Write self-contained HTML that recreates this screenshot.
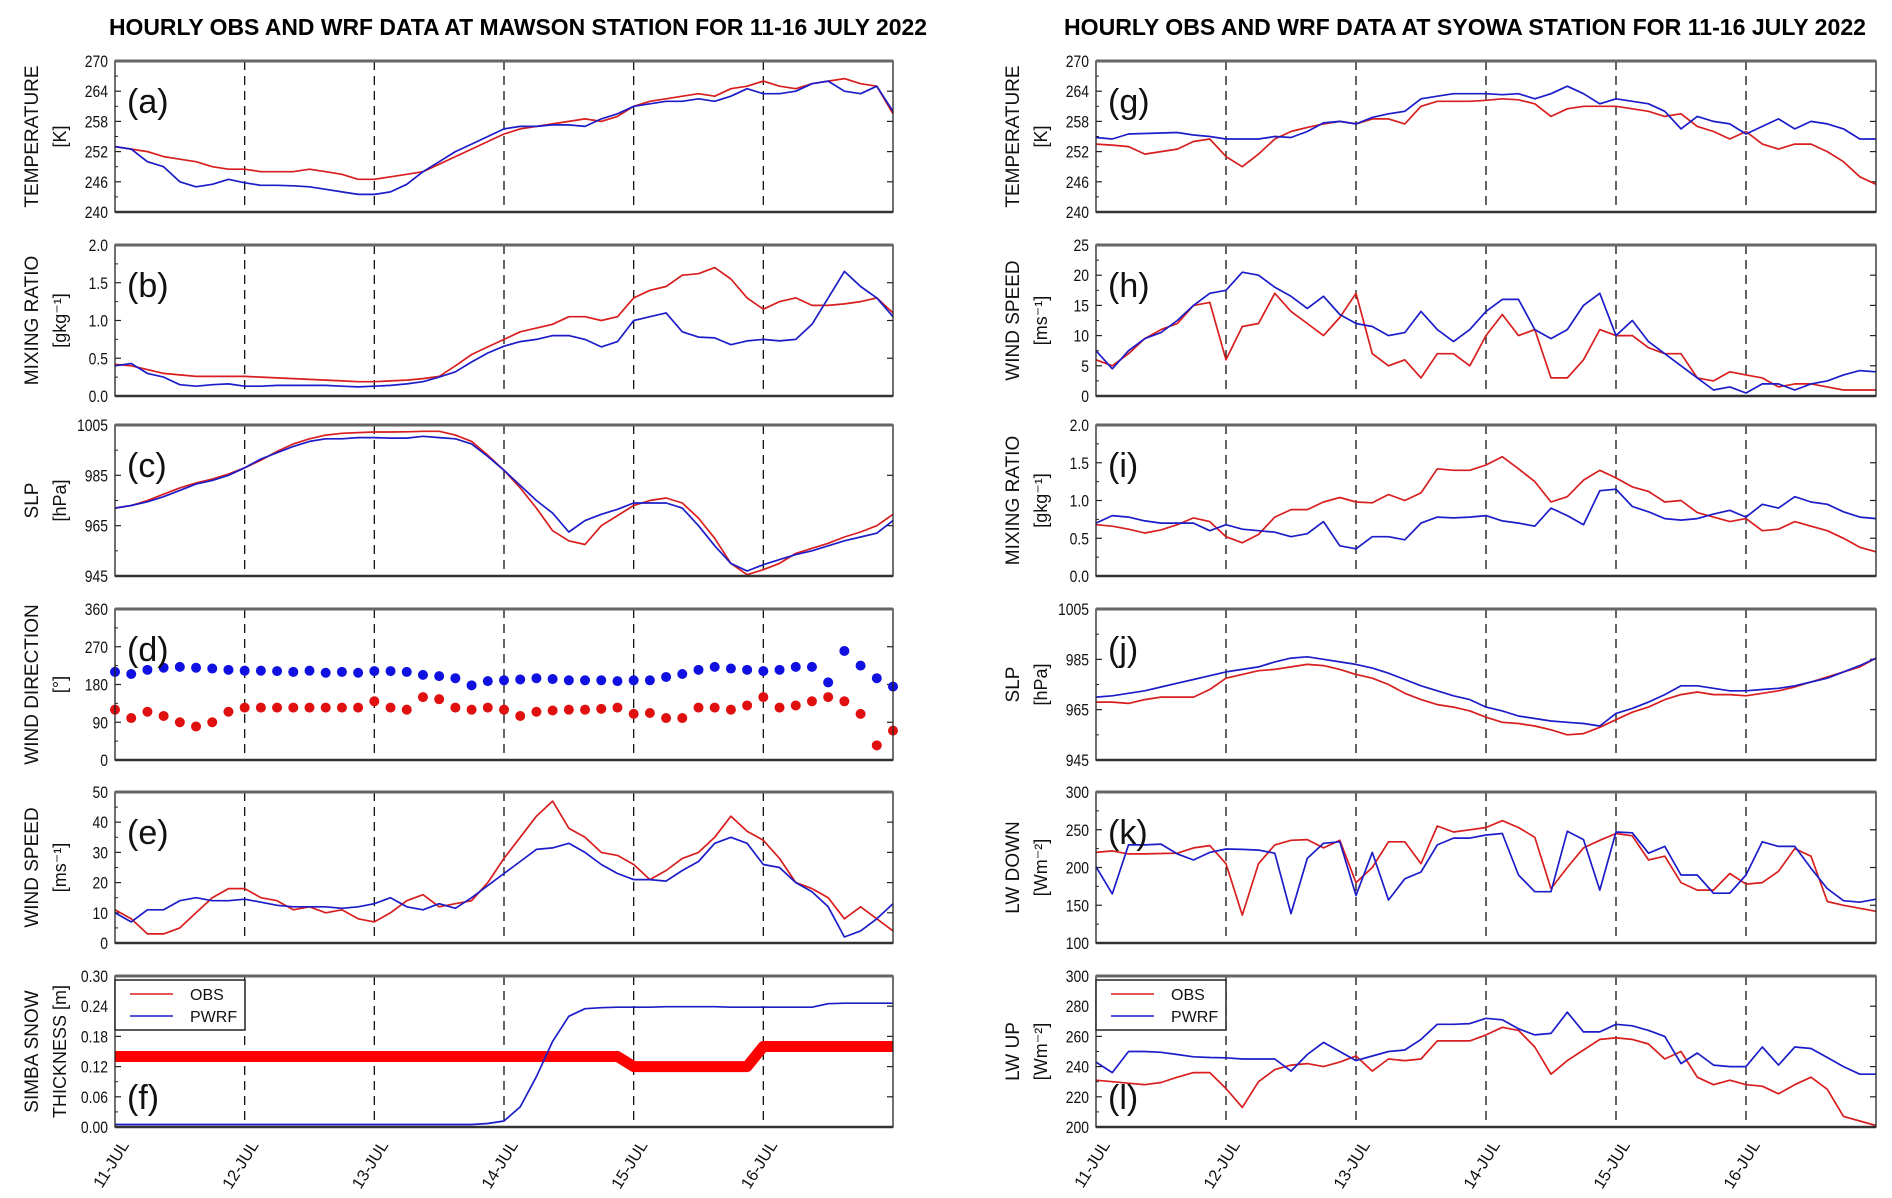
<!DOCTYPE html>
<html><head><meta charset="utf-8"><style>
html,body{margin:0;padding:0;background:#fff;}
svg{display:block;font-family:"Liberation Sans",sans-serif;}
</style></head><body>
<svg id="chart" width="1892" height="1198" viewBox="0 0 1892 1198" xmlns="http://www.w3.org/2000/svg">
<text x="518" y="35" text-anchor="middle" font-size="23" font-weight="bold" textLength="818" lengthAdjust="spacingAndGlyphs">HOURLY OBS  AND WRF DATA AT MAWSON STATION FOR 11-16 JULY 2022</text>
<text x="1465" y="35" text-anchor="middle" font-size="23" font-weight="bold" textLength="802" lengthAdjust="spacingAndGlyphs">HOURLY OBS  AND WRF DATA AT SYOWA STATION FOR 11-16 JULY 2022</text>
<g id="plots"></g>
</svg>
<script>
const hours = [0,3,6,9,12,15,18,21,24,27,30,33,36,39,42,45,48,51,54,57,60,63,66,69,72,75,78,81,84,87,90,93,96,99,102,105,108,111,114,117,120,123,126,129,132,135,138,141,144];
const dayLabels = ["11-JUL","12-JUL","13-JUL","14-JUL","15-JUL","16-JUL"];

const aObs = [253,252.5,252,251,250.5,250,249,248.5,248.5,248,248,248,248.5,248,247.5,246.5,246.5,247,247.5,248,249.5,251,252.5,254,255.5,256.5,257,257.5,258,258.5,258,259,261,262,262.5,263,263.5,263,264.5,265,266,265,264.5,265.5,266,266.5,265.5,265,259.5];
const aWrf = [253,252.5,250,249,246,245,245.5,246.5,245.8,245.3,245.3,245.2,245,244.5,244,243.5,243.5,244,245.5,248,250,252,253.5,255,256.5,257,257,257.3,257.3,257,258.5,259.5,261,261.5,262,262,262.5,262,263,264.5,263.5,263.5,264,265.5,266,264,263.5,265,260];
const bObs = [.42,.40,.35,.30,.28,.26,.26,.26,.26,.25,.24,.23,.22,.21,.20,.19,.19,.20,.21,.23,.26,.40,.55,.65,.75,.85,.90,.95,1.05,1.05,1.0,1.05,1.30,1.40,1.45,1.60,1.62,1.70,1.55,1.30,1.15,1.25,1.30,1.20,1.20,1.22,1.25,1.30,1.10];
const bWrf = [.40,.43,.30,.25,.15,.13,.15,.16,.13,.13,.14,.14,.14,.14,.13,.12,.13,.14,.16,.19,.25,.32,.45,.57,.66,.72,.75,.80,.80,.75,.65,.72,1.0,1.05,1.10,.85,.78,.77,.68,.73,.75,.73,.75,.95,1.30,1.65,1.45,1.30,1.05];
const cObs = [972,973,975,977.5,980,982,983.5,985.5,988,991,994.5,997.5,999.5,1001,1001.7,1002,1002.2,1002.2,1002.3,1002.5,1002.5,1001,998.5,993,987,980,972,963,959,957.5,965,969,973,975,976,974,968,960,950,945.5,947.5,950,954,956,958,960.5,962.5,965,969.5];
const cWrf = [972,973,974.5,976.5,979,981.5,983,985,988,991.5,994,996.5,998.5,999.5,999.5,1000,1000,999.8,999.8,1000.5,1000,999.5,997.5,992.5,987,981,975,970,962.5,967,969.5,971.5,974,974,974,972,965,957,950,947,949.5,951.5,953.5,955,957,959,960.5,962,967];
const dObs = [120,100,115,105,90,80,90,115,125,125,125,125,125,125,125,125,140,125,120,150,145,125,120,125,120,105,115,118,120,120,122,125,110,112,100,100,125,125,120,130,150,125,130,140,150,140,110,35,70];
const dWrf = [210,205,215,220,222,220,218,215,213,213,212,210,213,208,210,208,212,212,210,203,200,195,178,188,190,192,195,193,190,190,190,188,190,190,198,205,215,222,218,215,212,215,222,222,185,260,225,195,175];
const eObs = [11,8,3,3,5,10,15,18,18,15,14,11,12,10,11,8,7,10,14,16,12,13,14,20,28,35,42,47,38,35,30,29,26,21,24,28,30,35,42,37,34,28,20,18,15,8,12,8,4];
const eWrf = [10,7,11,11,14,15,14,14,14.5,13.5,12.5,12,12,12,11.5,12,13,15,12,11,13,11.5,15,19,23,27,31,31.5,33,30,26,23,21,21,20.5,24,27,33,35,33,26,25,20,17,12,2,4,8,13];
const fObs = [.14,.14,.14,.14,.14,.14,.14,.14,.14,.14,.14,.14,.14,.14,.14,.14,.14,.14,.14,.14,.14,.14,.14,.14,.14,.14,.14,.14,.14,.14,.14,.14,.12,.12,.12,.12,.12,.12,.12,.12,.16,.16,.16,.16,.16,.16,.16,.16,.16];
const fWrf = [.005,.005,.005,.005,.005,.005,.005,.005,.005,.005,.005,.005,.005,.005,.005,.005,.005,.005,.005,.005,.005,.005,.005,.007,.012,.04,.10,.17,.22,.235,.237,.238,.238,.238,.239,.239,.239,.239,.238,.238,.238,.238,.238,.238,.245,.246,.246,.246,.246];
const gObs = [253.5,253.3,253,251.5,252,252.5,254,254.5,251,249,251.5,254.5,256,256.8,257.5,258,257.5,258.5,258.5,257.5,261,262,262,262,262.2,262.5,262.3,261.5,259,260.5,261,261,261,260.5,260,259,259.5,257,256,254.5,256,253.5,252.5,253.5,253.5,252,250,247,245.5];
const gWrf = [254.8,254.5,255.5,255.6,255.7,255.8,255.3,255,254.5,254.5,254.5,255,254.8,256,257.7,258,257.5,258.8,259.5,260,262.5,263,263.5,263.5,263.5,263.3,263.5,262.5,263.5,265,263.5,261.5,262.5,262,261.5,260,256.5,259,258,257.5,255.5,257,258.5,256.5,258,257.5,256.5,254.5,254.5];
const hObs = [6,5,7,9.5,11,12,15,15.5,6,11.5,12,17,14,12,10,13,17,7,5,6,3,7,7,5,10,13.5,10,11,3,3,6,11,10,10,8,7,7,3,2.5,4,3.5,3,1.5,2,2,1.5,1,1,1];
const hWrf = [7.5,4.5,7.5,9.5,10.5,12.5,15,17,17.5,20.5,20,18,16.5,14.5,16.5,13.5,12,11.5,10,10.5,14,11,9,11,14,16,16,11,9.5,11,15,17,10,12.5,9,7,5,3,1,1.5,0.5,2,2,1,2,2.5,3.5,4.2,4];
const iObs = [.68,.66,.62,.57,.61,.68,.77,.72,.52,.44,.55,.78,.88,.88,.98,1.04,.98,.97,1.08,1.0,1.1,1.42,1.40,1.40,1.47,1.58,1.42,1.25,.98,1.05,1.27,1.40,1.30,1.18,1.12,.98,1.0,.84,.78,.72,.76,.60,.62,.72,.66,.60,.50,.38,.32];
const iWrf = [.70,.80,.78,.73,.70,.70,.70,.60,.68,.62,.60,.58,.52,.56,.72,.40,.36,.52,.52,.48,.70,.78,.77,.78,.80,.73,.70,.66,.90,.80,.68,1.13,1.15,.92,.85,.76,.74,.76,.82,.87,.78,.95,.90,1.05,.98,.95,.85,.78,.76];
const jObs = [968,968,967.5,969,970,970,970,973,977.5,979,980.5,981,982,983,982.5,981,979,977.5,975,971.5,969,967,966,964.5,962,960,959.5,958.5,957,955,955.5,958,961,964,966,969,971,972,971,971,970.5,971.5,972.5,974,976,978,980,982,985.5];
const jWrf = [970,970.5,971.5,972.5,974,975.5,977,978.5,980,981,982,984,985.5,986,985,984,983,981.5,979.5,977,974.5,972.5,970.5,969,966,964.5,962.5,961.5,960.5,960,959.5,958.5,963.5,965.5,968,971,974.5,974.5,973.5,972.5,972.5,973,973.5,974.5,976,977.5,980,982.5,985.5];
const kObs = [220,222,218,218,218.5,219,226,229,205,137,205,230,236,237,226,236,180,200,234,234,205,255,247,250,253,262,253,240,172,200,226,236,245,242,210,215,180,170,170,192,178,180,195,225,215,155,150,146,142];
const kWrf = [201,165,230,230,231,218,210,220,224.5,224,223,219,139,212,232,234,163,220,157,185,194,230,239,239,243,245,190,168,168,248,237,170,247,246,219,228,190,190,166,166,190,234,228,228,199,172,156,154,158];
const lObs = [231,230,229,228,229.5,233,236,236,225.5,213,230,238,241,242,240,243,247,237,245,244,245,257,257,257,261,266,264,253,235,244,251,258,259,258,255,245,250,233,228,231,228,227,222,228,233,225,207,204,201];
const lWrf = [243,236,250,250,249.5,248,246.5,246,245.8,245,245,245,237,248,256,250,244,247,250,251,258,268,268,268.5,272,271,265,261,262,276,263,263,268,267,264,260,242,249,241,240,240,253,241,253,252,246,240,235,235];

const RED = "#d81e1e", BLUE = "#1c1cc8";
const panels = [
 {id:"a",col:0,row:0,min:240,max:270,step:6,dec:0,t1:"TEMPERATURE",t2:"[K]",obs:aObs,wrf:aWrf},
 {id:"b",col:0,row:1,min:0,max:2,step:0.5,dec:1,t1:"MIXING RATIO",t2:"[gkg\u207B\u00B9]",obs:bObs,wrf:bWrf},
 {id:"c",col:0,row:2,min:945,max:1005,step:20,dec:0,t1:"SLP",t2:"[hPa]",obs:cObs,wrf:cWrf},
 {id:"d",col:0,row:3,min:0,max:360,step:90,dec:0,t1:"WIND DIRECTION",t2:"[\u00B0]",obs:dObs,wrf:dWrf,dots:true},
 {id:"e",col:0,row:4,min:0,max:50,step:10,dec:0,t1:"WIND SPEED",t2:"[ms\u207B\u00B9]",obs:eObs,wrf:eWrf},
 {id:"f",col:0,row:5,min:0,max:0.30,step:0.06,dec:2,t1:"SIMBA SNOW",t2:"THICKNESS [m]",obs:fObs,wrf:fWrf,band:true,legend:true,low:true},
 {id:"g",col:1,row:0,min:240,max:270,step:6,dec:0,t1:"TEMPERATURE",t2:"[K]",obs:gObs,wrf:gWrf},
 {id:"h",col:1,row:1,min:0,max:25,step:5,dec:0,t1:"WIND SPEED",t2:"[ms\u207B\u00B9]",obs:hObs,wrf:hWrf},
 {id:"i",col:1,row:2,min:0,max:2,step:0.5,dec:1,t1:"MIXING RATIO",t2:"[gkg\u207B\u00B9]",obs:iObs,wrf:iWrf},
 {id:"j",col:1,row:3,min:945,max:1005,step:20,dec:0,t1:"SLP",t2:"[hPa]",obs:jObs,wrf:jWrf},
 {id:"k",col:1,row:4,min:100,max:300,step:50,dec:0,t1:"LW DOWN",t2:"[Wm\u207B\u00B2]",obs:kObs,wrf:kWrf},
 {id:"l",col:1,row:5,min:200,max:300,step:20,dec:0,t1:"LW UP",t2:"[Wm\u207B\u00B2]",obs:lObs,wrf:lWrf,legend:true,low:true}
];
const tops = [61,245,425,609,792,976];
const PH = 151;
const lefts = [115,1096], PW = [778,780];
const NS = "http://www.w3.org/2000/svg";
const root = document.getElementById("plots");
function mk(tag, attrs, parent){const e=document.createElementNS(NS,tag);for(const k in attrs)e.setAttribute(k,attrs[k]);(parent||root).appendChild(e);return e;}

panels.forEach(p=>{
  const x0=lefts[p.col], w=PW[p.col], y0=tops[p.row];
  const xs=h=>x0+h/144*w;
  const ys=v=>y0+PH-(v-p.min)/(p.max-p.min)*PH;
  const g=mk("g",{});
  
  
  for(let d=1;d<6;d++){
    const l=mk("line",{x1:xs(d*24),x2:xs(d*24),y1:y0,y2:y0+PH,stroke:"#111","stroke-width":1.3,"stroke-dasharray":"9,6"},g);
    
    
  }
  const n=Math.round((p.max-p.min)/p.step);
  for(let i=0;i<=n;i++){
    const v=p.min+i*p.step, y=ys(v);
    const t=mk("text",{x:0,y:0,"text-anchor":"end","font-size":17,fill:"#111",transform:`translate(${x0-7} ${y+6}) scale(0.82 1)`},g);
    t.textContent=v.toFixed(p.dec);
    
    
    mk("line",{x1:x0,x2:x0+6,y1:y,y2:y,stroke:"#222","stroke-width":1.2},g);
    mk("line",{x1:x0+w,x2:x0+w-6,y1:y,y2:y,stroke:"#222","stroke-width":1.2},g);
    if(i<n){const ym=ys(v+p.step/2);mk("line",{x1:x0,x2:x0+3,y1:ym,y2:ym,stroke:"#222","stroke-width":1},g);}
  }
  const cy=y0+PH/2;
  const tx1=x0-82, tx2=x0-54;
  const a1=mk("text",{x:tx1,y:cy,"text-anchor":"middle","font-size":19,fill:"#111",transform:`rotate(-90 ${tx1} ${cy})`,"dominant-baseline":"middle"},g);
  a1.textContent=p.t1;
  
  
  const a2=mk("text",{x:tx2,y:cy,"text-anchor":"middle","font-size":18,fill:"#111",transform:`rotate(-90 ${tx2} ${cy})`,"dominant-baseline":"middle"},g);
  a2.textContent=p.t2;
  
  
  const pts=arr=>arr.map((v,i)=>xs(hours[i]).toFixed(1)+","+ys(v).toFixed(1)).join(" ");
  if(p.dots){
    [[p.obs,"#e01010",'obs-dot'],[p.wrf,"#1010e0",'wrf-dot']].forEach(([arr,c,nm])=>{
      arr.forEach((v,i)=>{
        const d=mk("circle",{cx:xs(hours[i]),cy:ys(v),r:5,fill:c},g);
        
        
      });
    });
  } else {
    const ob=mk("polyline",{points:pts(p.obs),fill:"none",stroke:p.band?"#ff0000":RED,"stroke-width":p.band?11:1.7,"stroke-linejoin":"round"},g);
    
    
    const wr=mk("polyline",{points:pts(p.wrf),fill:"none",stroke:BLUE,"stroke-width":1.7,"stroke-linejoin":"round"},g);
    
    
  }
  mk("rect",{x:x0,y:y0,width:w,height:PH,fill:"none",stroke:"#222","stroke-width":1.3},g);
  mk("line",{x1:x0,x2:x0+w,y1:y0,y2:y0,stroke:"#666","stroke-width":3},g);
  mk("line",{x1:x0,x2:x0+w,y1:y0+PH,y2:y0+PH,stroke:"#333","stroke-width":2.5},g);
  const lb=mk("text",{x:x0+12,y:p.low?y0+PH-18:y0+52,"font-size":34,fill:"#111"},g);
  lb.textContent="("+p.id+")";
  
  
  if(p.legend){
    const lg=mk("g",{},g);
    
    
    mk("rect",{x:x0,y:y0+4,width:130,height:50,fill:"#fff",stroke:"#222","stroke-width":1.5},lg);
    mk("line",{x1:x0+15,x2:x0+58,y1:y0+18,y2:y0+18,stroke:RED,"stroke-width":1.5},lg);
    mk("line",{x1:x0+15,x2:x0+58,y1:y0+40,y2:y0+40,stroke:BLUE,"stroke-width":1.5},lg);
    const o=mk("text",{x:x0+75,y:y0+24,"font-size":16,fill:"#111"},lg);o.textContent="OBS";
    
    
    const q=mk("text",{x:x0+75,y:y0+46,"font-size":16,fill:"#111"},lg);q.textContent="PWRF";
    
    
  }
  if(p.row===5){
    dayLabels.forEach((s,d)=>{
      const xx=xs(d*24)+5, yy=y0+PH+12;
      const t=mk("text",{x:xx,y:yy,"text-anchor":"end","font-size":16.5,fill:"#111",transform:`rotate(-58 ${xx} ${yy})`,"dominant-baseline":"hanging"},g);
      t.textContent=s;
      
      
    });
  }
});
</script>
</body></html>
